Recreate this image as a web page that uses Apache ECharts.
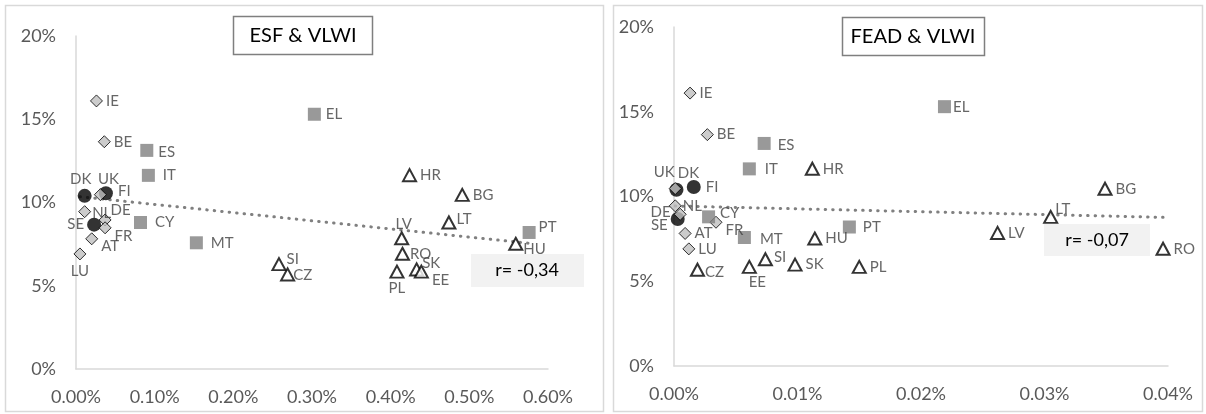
<!DOCTYPE html>
<html>
<head>
<meta charset="utf-8">
<script src="https://cdn.jsdelivr.net/npm/echarts@6/dist/echarts.min.js"></script>
<style>html,body{margin:0;padding:0;background:#fff;}#c{width:1206px;height:414px;}</style>
</head>
<body>
<div id="c"></div>
<script>
// ---- data ----
const countries = ['IE','BE','UK','NL','DE','FR','AT','LU','DK','FI','SE','ES','IT','CY','MT','EL','PT','HR','BG','LT','LV','RO','PL','SK','EE','SI','CZ','HU'];
const groups    = ['liberal','liberal','liberal','liberal','liberal','liberal','liberal','liberal','nordic','nordic','nordic','south','south','south','south','south','south','east','east','east','east','east','east','east','east','east','east','east'];
const vlwi      = [16.1, 13.65, 10.47, 9.45, 8.95, 8.48, 7.82, 6.91, 10.4, 10.56, 8.67, 13.13, 11.63, 8.8, 7.58, 15.3, 8.2, 11.64, 10.46, 8.8, 7.85, 6.92, 5.85, 5.98, 5.85, 6.3, 5.68, 7.52];
const esf       = [0.026, 0.036, 0.031, 0.011, 0.037, 0.037, 0.020, 0.005, 0.011, 0.038, 0.023, 0.090, 0.092, 0.082, 0.153, 0.303, 0.576, 0.424, 0.491, 0.474, 0.414, 0.415, 0.408, 0.433, 0.439, 0.258, 0.269, 0.559];
const fead      = [0.0013, 0.0027, 0.0001, 0.0001, 0.0005, 0.0034, 0.0009, 0.0012, 0.0002, 0.0016, 0.0003, 0.0073, 0.0061, 0.0028, 0.0057, 0.0219, 0.0142, 0.0112, 0.0349, 0.0305, 0.0262, 0.0396, 0.0150, 0.0098, 0.0061, 0.0074, 0.0019, 0.0114];
const esfTrend  = [[0.005, 10.35], [0.576, 7.55]];
const feadTrend = [[0.0001, 9.44], [0.0396, 8.77]];
const esfR  = 'r= -0,34';
const feadR = 'r= -0,07';
const xTicksEsf  = {min: 0, max: 0.6, interval: 0.1};
const xTicksFead = {min: 0, max: 0.04, interval: 0.01};
const yTicks     = {min: 0, max: 20, interval: 5};

// ---- label placement (styling) ----
const leftLbl = {
  DK:['top',[-4,1]], UK:['top',[8,1]], FI:['right',[2,-2]], NL:['right',[-2,1]], DE:['right',[-4,-10]],
  SE:['left',[0,0]], FR:['right',[0,8]], AT:['right',[0,7]], LU:['bottom',[0,0]], LV:['top',[2,3]],
  PL:['bottom',[0,-1]], SK:['right',[-5,-6]], EE:['right',[0,9]], CZ:['right',[-5,1]], SI:['right',[-3,-5]],
  PT:['right',[0,-5]], HU:['right',[-3,5]], IT:['right',[5,0]], CY:['right',[5,0]], MT:['right',[5,0]],
  ES:['right',[2,2]], EL:['right',[2,0]], RO:['right',[-3,0]], LT:['right',[-3,-3]]
};
const rightLbl = {
  UK:['top',[-11,1]], DK:['top',[12,1]], FI:['right',[2,0]], NL:['right',[-2,0]], DE:['left',[0,-2]],
  SE:['left',[0,6]], CY:['right',[2,-4]], FR:['right',[0,8]], AT:['right',[0,0]], LU:['right',[0,0]],
  EE:['bottom',[8,-2]], LT:['right',[-6,-8]], ES:['right',[4,2]], IT:['right',[6,0]], MT:['right',[6,2]],
  PT:['right',[4,0]], EL:['right',[-1,0]], CZ:['right',[-3,2]], SI:['right',[-2,-2]]
};

const symStyle = {
  liberal: {symbol:'diamond', symbolSize:[12,12], itemStyle:{color:'#bfbfbf', borderColor:'#000', borderWidth:1}},
  nordic:  {symbol:'circle', symbolSize:14, itemStyle:{color:'#000'}},
  south:   {symbol:'rect', symbolSize:13, itemStyle:{color:'#808080'}},
  east:    {symbol:'triangle', symbolSize:[13,12], itemStyle:{color:'#fff', borderColor:'#000', borderWidth:2}}
};
const order = ['nordic','liberal','south','east'];

function buildSeries(xs, lbl, axisIdx) {
  return order.map(g => ({
    type:'scatter', xAxisIndex:axisIdx, yAxisIndex:axisIdx,
    symbol: symStyle[g].symbol, symbolSize: symStyle[g].symbolSize,
    itemStyle: symStyle[g].itemStyle,
    z: 3,
    label:{show:true, formatter:p=>p.data.name, color:'#404040', fontSize:15, fontFamily:'Lato', distance:3},
    emphasis:{disabled:true},
    data: countries.map((c,i)=>({c,i})).filter(o=>groups[o.i]===g).map(o=>{
      const l = lbl[o.c] || ['right',[0,0]];
      return {name:o.c, value:[xs[o.i], vlwi[o.i]], label:{position:l[0], offset:l[1]}};
    })
  }));
}
function trendSeries(pts, axisIdx) {
  return {type:'line', xAxisIndex:axisIdx, yAxisIndex:axisIdx, data:pts, symbol:'none', silent:true, z:2,
    lineStyle:{color:'#808080', width:3, type:[0.5,7], cap:'round'}};
}
const axisLine = {show:true, lineStyle:{color:'#d9d9d9', width:1.5}};
const lblStyle = {color:'#595959', fontSize:18, fontFamily:'Lato'};
function xAxis(t, grid) {
  return {type:'value', gridIndex:grid, min:t.min, max:t.max, interval:t.interval,
    axisLine:axisLine, axisTick:{show:false}, splitLine:{show:false},
    axisLabel:Object.assign({margin:19, formatter:v=>v.toFixed(2)+'%'}, lblStyle)};
}
function yAxis(grid) {
  return {type:'value', gridIndex:grid, min:yTicks.min, max:yTicks.max, interval:yTicks.interval,
    axisLine:axisLine, axisTick:{show:false}, splitLine:{show:false},
    axisLabel:Object.assign({margin:20, formatter:v=>v+'%'}, lblStyle)};
}
function box(x,y,w,h,stroke,fill,lw){return {type:'rect', shape:{x,y,width:w,height:h}, style:{stroke, fill, lineWidth:lw}, z:0, silent:true};}
function txt(x,y,text,size){return {type:'text', x, y, style:{text, font:size+'px Lato', fill:'#000', align:'center', verticalAlign:'middle'}, z:10, silent:true};}

const chart = echarts.init(document.getElementById('c'), null, {renderer:'canvas'});
chart.setOption({
  animation:false,
  backgroundColor:'#fff',
  grid:[
    {left:76, top:36, width:472, height:333},
    {left:674, top:27, width:494, height:339}
  ],
  xAxis:[xAxis(xTicksEsf,0), xAxis(xTicksFead,1)],
  yAxis:[yAxis(0), yAxis(1)],
  graphic:[
    box(5.5,5.5,598,406,'#d9d9d9','none',1.5),
    box(613.5,5.5,589,406,'#d9d9d9','none',1.5),
    box(233.5,16.5,139,38,'#7f7f7f','#fff',1.5),
    txt(303,36,'ESF & VLWI',20),
    box(842.5,17.5,142,38,'#7f7f7f','#fff',1.5),
    txt(913,37,'FEAD & VLWI',20),
    box(471,254,113,33,'none','#f2f2f2',0),
    txt(527,270.5,esfR,18),
    box(1044,224,106,32,'none','#f2f2f2',0),
    txt(1097,240,feadR,18)
  ],
  series:[trendSeries(esfTrend,0), trendSeries(feadTrend,1)]
    .concat(buildSeries(esf, leftLbl, 0))
    .concat(buildSeries(fead, rightLbl, 1))
});
</script>
</body>
</html>
